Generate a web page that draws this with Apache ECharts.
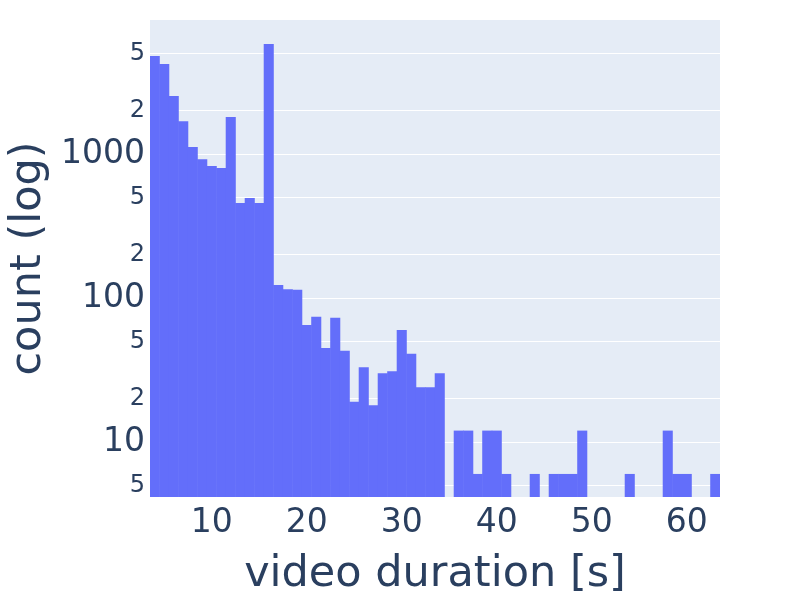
<!DOCTYPE html>
<html>
<head>
<meta charset="utf-8">
<script src="https://cdn.jsdelivr.net/npm/echarts@6/dist/echarts.min.js"></script>
<style>
  html, body { margin: 0; padding: 0; background: #fff; }
  #chart { width: 800px; height: 600px; }
</style>
</head>
<body>
<div id="chart"></div>
<script>
// bin centers (1 s wide bins, 3.5 .. 63.5)
const durations = [];
for (let d = 4; d <= 63; d++) durations.push(String(d));

// counts per bin (0 = empty bin)
const counts = [
  4800, 4220, 2530, 1690, 1120, 920, 826, 800, 1806, 457,
  494, 457, 5810, 123, 115, 114, 65, 74, 45, 73,
  43, 19, 33, 18, 30, 31, 60, 41, 24, 24,
  30, 0, 12, 12, 6, 12, 12, 6, 0, 0,
  6, 0, 6, 6, 6, 12, 0, 0, 0, 0,
  6, 0, 0, 0, 12, 6, 6, 0, 0, 6
];

// y tick values, powers of ten get the full big label, others just the leading digit
const yTicks = [5, 10, 20, 50, 100, 200, 500, 1000, 2000, 5000];
const yMajor = [10, 100, 1000];

const textColor = "#2a3f5f";
const barColor = "#636efa";
const chart = echarts.init(document.getElementById("chart"));

const option = {
  backgroundColor: "#fff",
  textStyle: { fontFamily: "DejaVu Sans", color: textColor },
  grid: {
    left: 150,
    right: 80,
    top: 20,
    bottom: 103,
    outerBoundsMode: "none",
    containLabel: false,
    show: true,
    backgroundColor: "#e5ecf6",
    borderWidth: 0,
  },
  xAxis: {
    type: "category",
    data: durations,
    boundaryGap: true,
    axisLine: { show: false },
    axisTick: { show: false },
    splitLine: { show: false },
    axisLabel: {
      interval: (i, v) => Number(v) % 10 === 0,
      color: textColor,
      fontSize: 33,
      margin: 10,
    },
    name: "video duration [s]",
    nameLocation: "middle",
    nameGap: 56,
    nameTextStyle: { fontSize: 43, color: textColor },
  },
  yAxis: {
    type: "log",
    logBase: 10,
    min: 4.15,
    max: 8520,
    axisLine: { show: false },
    axisTick: { show: false, customValues: yTicks },
    splitLine: { show: true, lineStyle: { color: "#fff", width: 1 } },
    axisLabel: {
      customValues: yTicks,
      margin: 5,
      formatter: (v) => {
        const n = Math.round(v);
        return yMajor.includes(n)
          ? "{big|" + n + "}"
          : "{small|" + String(n).charAt(0) + "}";
      },
      rich: {
        big: { fontSize: 33, color: textColor },
        small: { fontSize: 24, color: textColor },
      },
    },
    name: "count (log)",
    nameLocation: "middle",
    nameGap: 100,
    nameTextStyle: { fontSize: 43, color: textColor },
  },
  series: [
    {
      type: "bar",
      data: counts.map((c) => (c > 0 ? c : "-")),
      barWidth: "106%",
      barGap: "0%",
      clip: true,
      itemStyle: { color: barColor },
      silent: true,
    },
  ],
};

chart.setOption(option);
</script>
</body>
</html>
